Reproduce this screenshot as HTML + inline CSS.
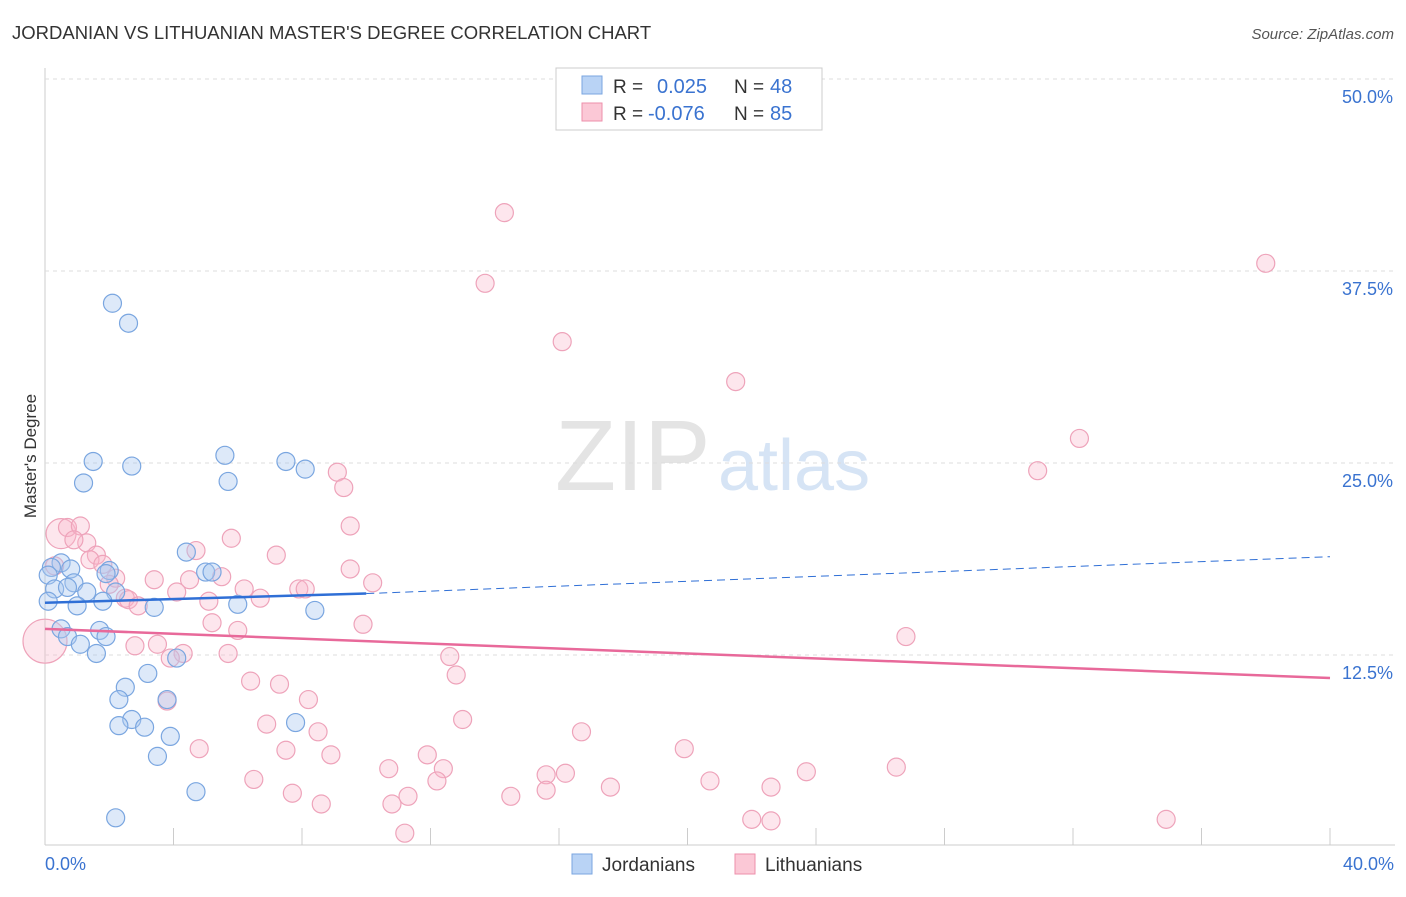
<!DOCTYPE html>
<html><head><meta charset="utf-8">
<style>
body{margin:0;background:#fff;font-family:"Liberation Sans",sans-serif;}
svg text{font-family:"Liberation Sans",sans-serif;}
</style></head>
<body>
<svg id="chart" width="1406" height="892" xmlns="http://www.w3.org/2000/svg">
<text x="12" y="39" font-size="18.5" fill="#333">JORDANIAN VS LITHUANIAN MASTER'S DEGREE CORRELATION CHART</text>
<text x="1394" y="39" font-size="15" fill="#555" font-style="italic" text-anchor="end">Source: ZipAtlas.com</text>
<text x="36" y="456" font-size="17" fill="#333" text-anchor="middle" transform="rotate(-90 36 456)">Master's Degree</text>
<text x="555" y="490" font-size="100" fill="#e4e4e4" font-family="Liberation Serif">ZIP</text>
<text x="718" y="490" font-size="72" fill="#d6e4f5">atlas</text>
<g id="grid"></g><g id="marks"></g>
<g>
<rect x="556" y="68" width="266" height="62" fill="#fff" stroke="#ccc"/>
<rect x="582" y="76" width="20" height="18" fill="#b9d3f5" stroke="#7aa6e0"/>
<rect x="582" y="103" width="20" height="18" fill="#fbc8d6" stroke="#ee8fab"/>
<text x="613" y="93" font-size="19" fill="#333">R = </text><text x="657" y="93" font-size="20" fill="#3a73d0">0.025</text>
<text x="734" y="93" font-size="19" fill="#333">N = </text><text x="770" y="93" font-size="20" fill="#3a73d0">48</text>
<text x="613" y="120" font-size="19" fill="#333">R = </text><text x="648" y="120" font-size="20" fill="#3a73d0">-0.076</text>
<text x="734" y="120" font-size="19" fill="#333">N = </text><text x="770" y="120" font-size="20" fill="#3a73d0">85</text>
</g>
<g>
<rect x="572" y="854" width="20" height="20" fill="#b9d3f5" stroke="#7aa6e0"/>
<text x="602" y="871" font-size="19" fill="#333">Jordanians</text>
<rect x="735" y="854" width="20" height="20" fill="#fbc8d6" stroke="#ee8fab"/>
<text x="765" y="871" font-size="19" fill="#333">Lithuanians</text>
</g>
</svg>
<script>
const xTicks=[0,4,8,12,16,20,24,28,32,36,40];
const yTicks=[12.5,25,37.5,50];
const blueX=[2.1,2.6,1.5,2.7,5.6,7.5,8.1,1.2,5.7,4.4,5.0,5.2,0.5,0.2,0.8,2.0,1.9,0.1,0.9,0.3,0.7,1.3,2.2,1.8,0.1,1.0,3.4,6.0,8.4,0.5,0.7,1.7,1.9,1.1,1.6,4.1,3.2,2.5,2.3,3.8,2.7,2.3,3.1,7.8,3.9,3.5,4.7,2.2];
const blueY=[35.4,34.1,25.1,24.8,25.5,25.1,24.6,23.7,23.8,19.2,17.9,17.9,18.5,18.2,18.1,18.0,17.8,17.7,17.2,16.8,16.9,16.6,16.6,16.0,16.0,15.7,15.6,15.8,15.4,14.2,13.7,14.1,13.7,13.2,12.6,12.3,11.3,10.4,9.6,9.6,8.3,7.9,7.8,8.1,7.2,5.9,3.6,1.9];
const pinkX=[14.3,13.7,38.0,16.1,21.5,32.2,30.9,9.1,9.3,0.5,0.7,1.1,9.5,5.8,1.3,0.9,4.7,7.2,0.3,1.6,1.4,1.8,9.5,2.2,3.4,4.5,5.5,7.9,8.1,10.2,6.2,4.1,6.7,2.5,2.6,5.1,2.9,2.0,5.2,9.9,6.0,26.8,3.5,2.8,4.3,5.7,3.9,12.6,12.8,6.4,7.3,8.2,3.8,13.0,6.9,8.5,16.7,4.8,7.5,19.9,8.9,11.9,10.7,12.4,26.5,23.7,15.6,16.2,6.5,12.2,20.7,17.6,22.6,7.7,11.3,14.5,8.6,10.8,15.6,11.2,22.0,22.6,34.9,0];
const pinkY=[41.3,36.7,38.0,32.9,30.3,26.6,24.5,24.4,23.4,20.4,20.8,20.9,20.9,20.1,19.8,20.0,19.3,19.0,18.3,19.0,18.7,18.4,18.1,17.5,17.4,17.4,17.6,16.8,16.8,17.2,16.8,16.6,16.2,16.2,16.1,16.0,15.7,17.1,14.6,14.5,14.1,13.7,13.2,13.1,12.6,12.6,12.3,12.4,11.2,10.8,10.6,9.6,9.5,8.3,8.0,7.5,7.5,6.4,6.3,6.4,6.0,6.0,5.1,5.1,5.2,4.9,4.7,4.8,4.4,4.3,4.3,3.9,3.9,3.5,3.3,3.3,2.8,2.8,3.7,0.9,1.8,1.7,1.8,13.4];
const blueTrend=[0,15.9,10,16.5,40,18.9];
const pinkTrend=[0,14.2,40,11.0];
const X=v=>45+v/40*1285, Y=v=>847-v/12.5*192;
const NS="http://www.w3.org/2000/svg";
function mk(t,a,p){const e=document.createElementNS(NS,t);for(const k in a)e.setAttribute(k,a[k]);p.appendChild(e);return e;}
const g=document.getElementById('grid'),m=document.getElementById('marks');
mk('line',{x1:45,y1:68,x2:45,y2:845,stroke:'#ccc'},g);
mk('line',{x1:45,y1:845,x2:1395,y2:845,stroke:'#ccc'},g);
yTicks.forEach(t=>{
 const l=mk('line',{x1:45,y1:Y(t),x2:1395,y2:Y(t),stroke:'#ddd','stroke-dasharray':'4,4'},g);
 
 const tx=mk('text',{x:1393,y:Y(t)+24,'font-size':18,fill:'#3a73d0','text-anchor':'end'},g);tx.textContent=t.toFixed(1)+'%';
 
});
xTicks.forEach(t=>{const l=mk('line',{x1:X(t),y1:828,x2:X(t),y2:845,stroke:'#ccc'},g);
 });
[[0,'start',45],[40,'end',1394]].forEach(([v,a,x])=>{const tx=mk('text',{x:x,y:870,'font-size':18,fill:'#3a73d0','text-anchor':a},g);tx.textContent=v.toFixed(1)+'%';
 });
pinkX.forEach((v,i)=>{const r=(i===pinkX.length-1)?22:(i===9?15:9);const c=mk('circle',{cx:X(v),cy:Y(pinkY[i]),r:r,fill:'rgba(248,182,204,0.35)',stroke:'#eea3ba','stroke-width':1.2},m);
 });
blueX.forEach((v,i)=>{const c=mk('circle',{cx:X(v),cy:Y(blueY[i]),r:9,fill:'rgba(170,200,240,0.4)',stroke:'#7aa6e0','stroke-width':1.2},m);
 });
let l=mk('line',{x1:X(blueTrend[0]),y1:Y(blueTrend[1]),x2:X(blueTrend[2]),y2:Y(blueTrend[3]),stroke:'#2f6fd6','stroke-width':2.5},m);

l=mk('line',{x1:X(blueTrend[2]),y1:Y(blueTrend[3]),x2:X(blueTrend[4]),y2:Y(blueTrend[5]),stroke:'#2f6fd6','stroke-width':1,'stroke-dasharray':'8,5'},m);

l=mk('line',{x1:X(pinkTrend[0]),y1:Y(pinkTrend[1]),x2:X(pinkTrend[2]),y2:Y(pinkTrend[3]),stroke:'#e8699a','stroke-width':2.5},m);

</script>
</body></html>
